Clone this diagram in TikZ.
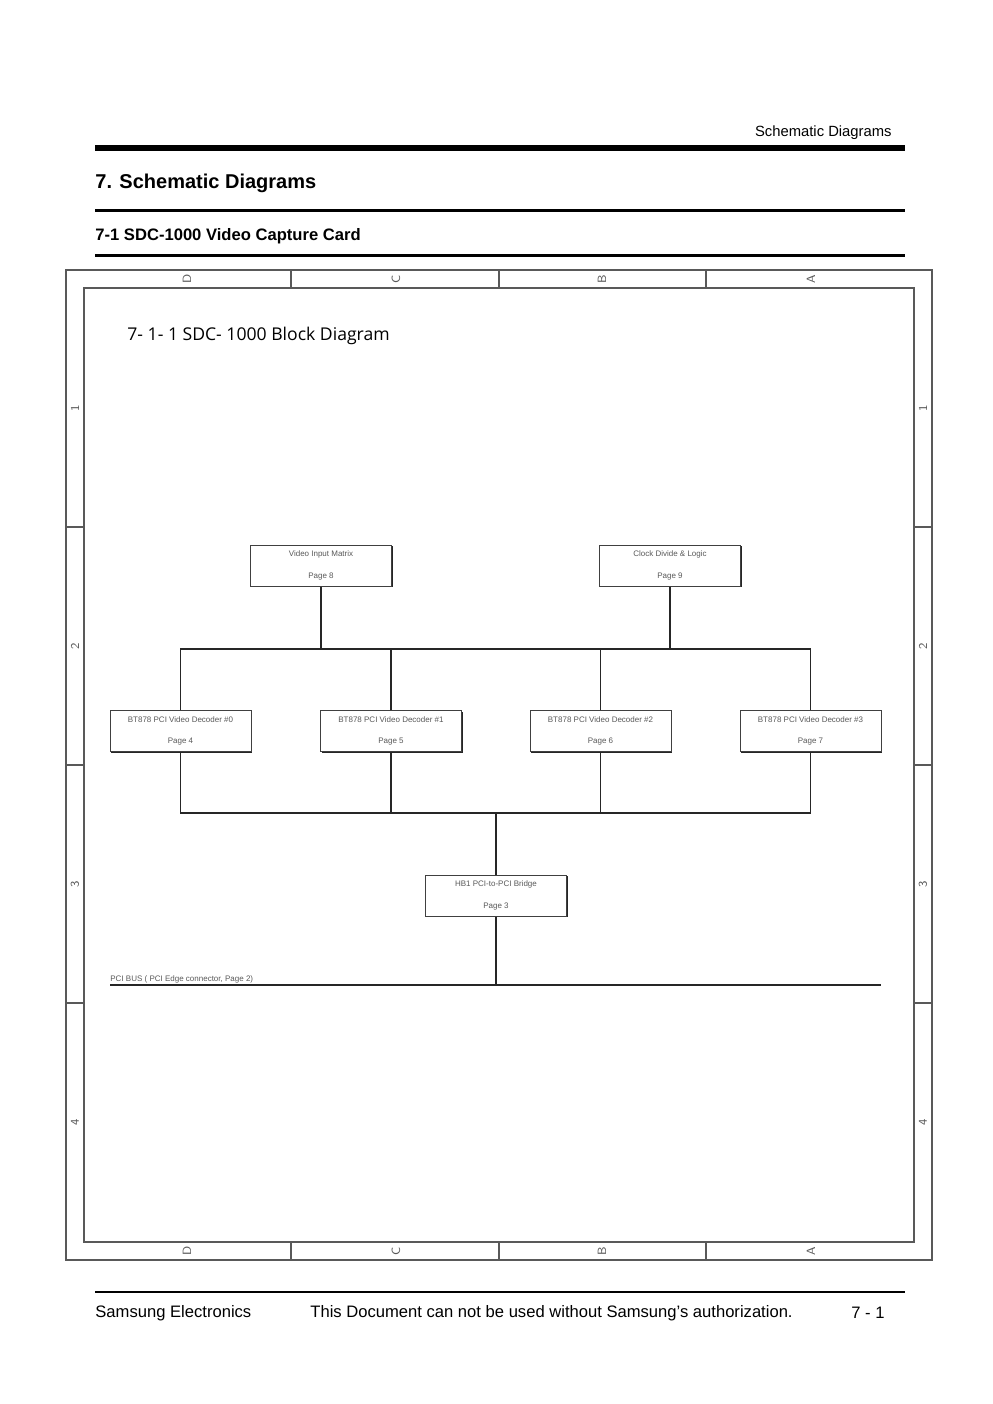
\documentclass[tikz,border=0pt]{standalone}
\usepackage{fontspec}
\setmainfont{Liberation Sans}
\newfontfamily\blockfont{Open Sans}
\usetikzlibrary{shadows}
\tikzset{
  blk/.style={draw=black!75, line width=0.5pt, fill=white, minimum width=70.5pt,
    minimum height=20.5pt, inner sep=0pt, align=center,
    font=\fontsize{4}{4.8}\selectfont, text=black!65,
    drop shadow={shadow xshift=0.6pt, shadow yshift=-0.6pt, fill=black!85, opacity=1}},
  wire/.style={black!85, line width=0.65pt},
  frm/.style={black!65, line width=0.6pt},
  zone/.style={font=\sffamily\fontsize{6}{7}\selectfont, text=black!65, rotate=90, inner sep=0pt},
  txt/.style={inner sep=0pt, font=\fontsize{8.3}{10}\selectfont}
}
\begin{document}
\begin{tikzpicture}[x=0.5pt, y=-0.5pt]
	\useasboundingbox (0,0) rectangle (992,1404);
	\node [txt, anchor=east, font=\fontsize{7.4}{9}\selectfont] (hdr) at (892,133) {Schematic Diagrams};
	\draw [line width=3pt] (95,148) -- (905,148);
	\node [txt, anchor=west, font=\bfseries\fontsize{10}{12}\selectfont] (ttl) at (95,183) {7. Schematic Diagrams};
	\draw [line width=1.5pt] (95,210) -- (905,210);
	\node [txt, anchor=west, font=\bfseries\fontsize{8.3}{10}\selectfont] (sub) at (95,236) {7-1 SDC-1000 Video Capture Card};
	\draw [line width=1.5pt] (95,255) -- (905,255);
	\draw [frm] (66,270) rectangle (932,1260);
	\draw [frm] (84,288) rectangle (914,1242);
	\foreach \x in {291,499,706}{
	\draw [frm] (\x,270) -- (\x,288);
	\draw [frm] (\x,1242) -- (\x,1260);
	}
	\foreach \y in {527,765,1003}{
	\draw [frm] (66,\y) -- (84,\y);
	\draw [frm] (914,\y) -- (932,\y);
	}
	\foreach \x/\l in {187/D,396/C,602/B,811/A}{
	\node [zone] (zt\l) at (\x,279) {\l};
	\node [zone] (zb\l) at (\x,1251) {\l};
	}
	\foreach \y/\n in {408/1,646/2,884/3,1122/4}{
	\node [zone] (zl\n) at (75,\y) {\n};
	\node [zone] (zr\n) at (923,\y) {\n};
	}
	\node [anchor=west, inner sep=0pt, font=\blockfont\fontsize{8.8}{10}\selectfont] (bdt) at (127,336) {7- 1- 1 SDC- 1000 Block Diagram};
	\node [blk] (vim) at (321,565.5) {Video Input Matrix\\[6pt]Page 8};
	\node [blk] (clk) at (670,565.5) {Clock Divide \& Logic\\[6pt]Page 9};
	\foreach \i/\x/\p in {0/180.5/4,1/391/5,2/600.5/6,3/810.5/7}{
	\node [blk] (dec\i) at (\x,731) {BT878 PCI Video Decoder \#\i\\[6pt]Page \p};
	}
	\node [blk] (brg) at (496,895.5) {HB1 PCI-to-PCI Bridge\\[6pt]Page 3};
	\coordinate (hubA) at (496,649);
	\coordinate (hubB) at (496,813);
	\coordinate (busL) at (110,985);
	\coordinate (busR) at (881,985);
	\draw [wire] (dec0.north) -- (dec0.north |- hubA) -- (dec3.north |- hubA) -- (dec3.north);
	\draw [wire] (dec1.north) -- (dec1.north |- hubA);
	\draw [wire] (dec2.north) -- (dec2.north |- hubA);
	\draw [wire] (vim.south) -- (vim.south |- hubA);
	\draw [wire] (clk.south) -- (clk.south |- hubA);
	\draw [wire] (dec0.south) -- (dec0.south |- hubB) -- (dec3.south |- hubB) -- (dec3.south);
	\draw [wire] (dec1.south) -- (dec1.south |- hubB);
	\draw [wire] (dec2.south) -- (dec2.south |- hubB);
	\draw [wire] (brg.north) -- (hubB);
	\draw [wire, line width=1pt] (busL) -- (busR);
	\draw [wire] (brg.south) -- (brg.south |- busL);
	\node [anchor=base west, inner sep=0pt, font=\fontsize{4}{4.8}\selectfont, text=black!65] (bus) at (110,981) {PCI BUS ( PCI Edge connector, Page 2)};
	\draw [line width=1pt] (95,1292) -- (905,1292);
	\node [txt, anchor=west] (ft1) at (95,1313) {Samsung Electronics};
	\node [txt, anchor=west] (ft2) at (310,1313) {This Document can not be used without Samsung’s authorization.};
	\node [txt, anchor=east] (ft3) at (885,1313) {7 - 1};
\end{tikzpicture}
\end{document}
